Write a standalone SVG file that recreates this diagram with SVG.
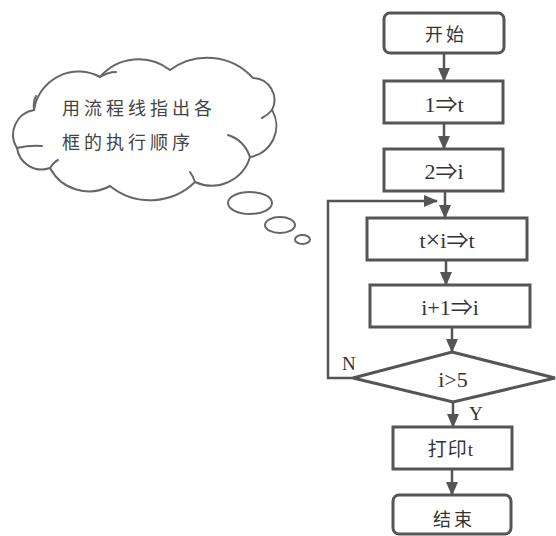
<svg xmlns="http://www.w3.org/2000/svg" width="556" height="536" viewBox="0 0 556 536">
<style>
.box{fill:none;stroke:#555;stroke-width:3}
.ln{fill:none;stroke:#555;stroke-width:2.5}
.cl{fill:none;stroke:#666;stroke-width:2;stroke-linecap:round}
.t{font-family:"Liberation Serif","Noto Sans CJK SC",serif;font-size:22px;fill:#333;text-anchor:middle}
.c{font-family:"Liberation Serif","Noto Sans CJK SC",serif;font-size:18px;fill:#333;text-anchor:middle;letter-spacing:3px}
.ct{font-family:"Noto Sans CJK SC",sans-serif;font-size:18px;fill:#444;letter-spacing:4px}
.lb{font-family:"Liberation Serif",serif;font-size:19px;fill:#333}
</style>
<defs>
<marker id="ah" markerWidth="14" markerHeight="12" refX="13" refY="6" orient="auto" markerUnits="userSpaceOnUse">
<path d="M0,0 L14,6 L0,12 Z" fill="#555"/>
</marker>
</defs>
<rect width="556" height="536" fill="#fff"/>
<g id="cloud">
<path class="cl" d="M34,110 A45,45 0 0 1 100,77 A51,51 0 0 1 170,70 A62,62 0 0 1 253,78 A22,22 0 0 1 272,110 A31.5,31.5 0 0 1 250,157 A40,40 0 0 1 195,182 A64,64 0 0 1 110,186 A44,44 0 0 1 50,168 A25,25 0 0 1 17,148 A25,25 0 0 1 34,110"/>
<path class="cl" d="M34,110 Q33,102 36,96"/>
<path class="cl" d="M100,77 Q108,72 116,72"/>
<path class="cl" d="M272,110 Q268,115 262,118"/>
<path class="cl" d="M228,135 Q244,140 250,157"/>
<path class="cl" d="M17,148 Q30,145 42,146"/>
<path class="cl" d="M50,168 Q54,162 58,160"/>
<path class="cl" d="M195,182 Q193,176 190,172"/>
<text class="ct" x="62" y="115">用流程线指出各</text>
<text class="ct" x="62" y="149">框的执行顺序</text>
<ellipse class="cl" cx="250" cy="203" rx="22" ry="11"/>
<ellipse class="cl" cx="280" cy="225" rx="15" ry="8"/>
<ellipse class="cl" cx="302.5" cy="239.5" rx="7.5" ry="4.5"/>
</g>
<g id="connectors">
<line class="ln" x1="444" y1="53" x2="444" y2="81" marker-end="url(#ah)"/>
<line class="ln" x1="444" y1="123" x2="444" y2="149" marker-end="url(#ah)"/>
<line class="ln" x1="445" y1="191" x2="445" y2="218" marker-end="url(#ah)"/>
<line class="ln" x1="446" y1="260" x2="446" y2="285" marker-end="url(#ah)"/>
<line class="ln" x1="452" y1="327" x2="452" y2="352" marker-end="url(#ah)"/>
<line class="ln" x1="453" y1="402" x2="453" y2="427" marker-end="url(#ah)"/>
<line class="ln" x1="452" y1="469" x2="452" y2="495" marker-end="url(#ah)"/>
<polyline class="ln" points="353,378 328,378 328,201 437,201" marker-end="url(#ah)"/>
<text class="lb" x="342" y="370">N</text>
<text class="lb" x="469" y="420">Y</text>
</g>
<g id="start">
<rect class="box" x="384" y="13" width="120" height="40" rx="6"/>
<text class="c" x="446" y="41">开始</text>
</g>
<g id="n1">
<rect class="box" x="384" y="81" width="119" height="42"/>
<text class="t" x="444" y="112">1⇒t</text>
</g>
<g id="n2">
<rect class="box" x="384" y="149" width="119" height="42"/>
<text class="t" x="444" y="179">2⇒i</text>
</g>
<g id="n3">
<rect class="box" x="367" y="218" width="160" height="42"/>
<text class="t" x="447" y="248">t<tspan font-size="26">×</tspan>i⇒t</text>
</g>
<g id="n4">
<rect class="box" x="370" y="285" width="160" height="42"/>
<text class="t" x="450" y="315">i+1⇒i</text>
</g>
<g id="cond">
<polygon class="box" points="452,352 555,378 453,402 353,378"/>
<text class="t" x="453" y="387">i&gt;5</text>
</g>
<g id="print">
<rect class="box" x="393" y="427" width="119" height="42"/>
<text class="c" x="451" y="456" style="letter-spacing:1px;font-size:19px">打印t</text>
</g>
<g id="end">
<rect class="box" x="393" y="495" width="118" height="39" rx="6"/>
<text class="c" x="454" y="526">结束</text>
</g>
</svg>
